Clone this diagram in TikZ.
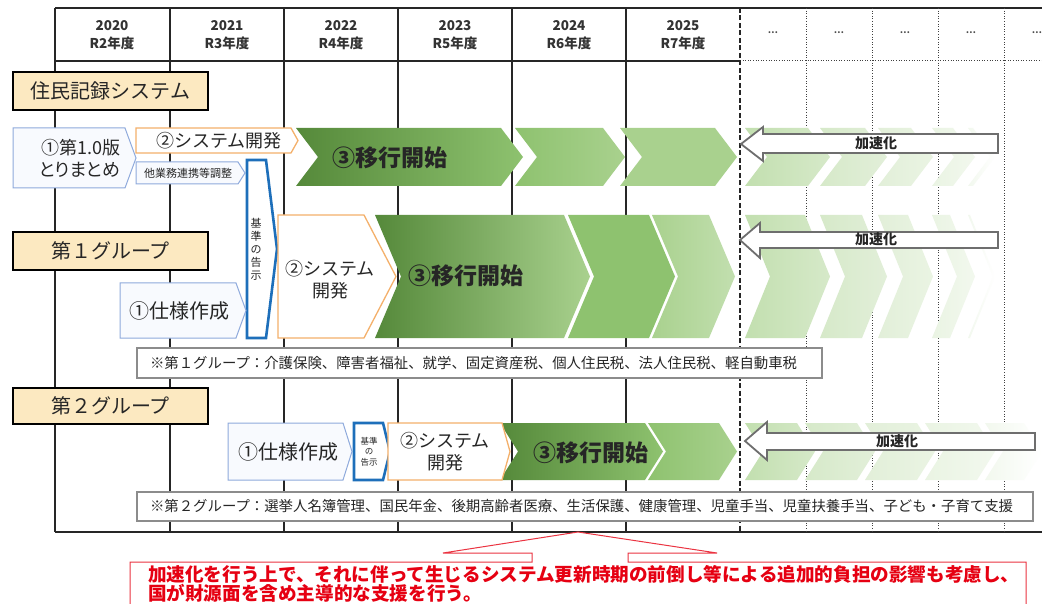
\documentclass[tikz,border=0pt]{standalone}
\usepackage{fontspec}
\setmainfont{Noto Sans CJK JP}
\definecolor{txt}{HTML}{262626}
\definecolor{beige}{HTML}{FCE9C1}
\definecolor{lblue}{HTML}{8FAADC}
\definecolor{lbluefill}{HTML}{F8FAFE}
\definecolor{orng}{HTML}{F4B06B}
\definecolor{kblue}{HTML}{1E6FBA}
\definecolor{ngray}{HTML}{8C8C8C}
\definecolor{agray}{HTML}{6E6E6E}
\definecolor{cred}{HTML}{E60012}
\definecolor{gA}{HTML}{55893A}
\definecolor{gB}{HTML}{8EC26F}
\definecolor{gC}{HTML}{A9D18E}
\definecolor{gD}{HTML}{C2DFAF}
\definecolor{gE}{HTML}{D6E9C9}
\definecolor{gF}{HTML}{E2EFD9}
\definecolor{gG}{HTML}{EAF4E3}
\definecolor{gH}{HTML}{F2F8EE}
\newcommand\chev[7]{\shade[left color=#6,right color=#7] (#1,#3) -- ({#2-#5},#3) -- (#2,{(#3+#4)/2}) -- ({#2-#5},#4) -- (#1,#4) -- ({#1+#5},{(#3+#4)/2}) -- cycle;}
\newcommand\pent[6]{\draw[#6] (#1,#3) -- ({#2-#5},#3) -- (#2,{(#3+#4)/2}) -- ({#2-#5},#4) -- (#1,#4) -- cycle;}
\newcommand\accel[8]{\draw[accelarrow] (#1,#2) -- (#3,#4) -- (#3,#6) -- (#7,#6) -- (#7,#8) -- (#3,#8) -- (#3,#5) -- cycle;}
\tikzset{
  gridline/.style={line width=1.8pt, black!85},
  dashline/.style={line width=2.2pt, black!85, dash pattern=on 5pt off 2.5pt},
  dotline/.style={line width=1pt, black!75, dash pattern=on 1pt off 1.6pt},
  labelbox/.style={draw=black, line width=1.2pt, fill=beige},
  bluechev/.style={draw=lblue, line width=1pt, fill=lbluefill},
  orangechev/.style={draw=orng, line width=1.3pt, fill=white},
  stdbox/.style={draw=kblue, line width=2.6pt, fill=white, line join=miter},
  notebox/.style={draw=ngray, line width=1.3pt, fill=white},
  accelarrow/.style={draw=agray, line width=1.8pt, fill=white, line join=miter},
  every node/.style={inner sep=0pt, outer sep=0pt, text=txt},
  hdr/.style={font=\fontsize{13.5}{18}\selectfont\bfseries, text=black!80, align=center},
  lbl/.style={font=\fontsize{20}{24}\selectfont},
  big/.style={font=\fontsize{23}{26}\selectfont\bfseries},
  mid/.style={font=\fontsize{18}{22}\selectfont},
  note/.style={font=\fontsize{14.4}{17}\selectfont, anchor=west},
  acc/.style={font=\fontsize{14}{16}\selectfont\bfseries},
}
\begin{document}
\begin{tikzpicture}[x=1pt,y=-1pt]
\useasboundingbox (0,0) rectangle (1042,604);
\fill[white] (0,0) rectangle (1042,604);
% grid
\draw[gridline] (55,8) -- (1042,8);
\draw[gridline] (55,61) -- (740,61);
\draw[dotline] (740,61) -- (1042,61);
\draw[gridline] (55,532) -- (1042,532);
\foreach \x in {55,170,284,398,512,626} \draw[gridline] (\x,8) -- (\x,532);
\draw[dashline] (740,8) -- (740,532);
\foreach \x in {806,872,938,1004} \draw[dotline] (\x,8) -- (\x,532);
% header
\node[hdr] (h20) at (112,35) {2020\\R2年度};
\node[hdr] (h21) at (227,35) {2021\\R3年度};
\node[hdr] (h22) at (341,35) {2022\\R4年度};
\node[hdr] (h23) at (455,35) {2023\\R5年度};
\node[hdr] (h24) at (569,35) {2024\\R6年度};
\node[hdr] (h25) at (683,35) {2025\\R7年度};
\foreach \x/\n in {773/a,839/b,905/c,971/d,1037/e} \node[font=\fontsize{9}{10}\selectfont\bfseries, text=black!70] (dots\n) at (\x,33) {…};

% ---------- Row 1 ----------
\draw[labelbox] (13,72) rectangle (208,110);
\node[lbl] (jumin) at (110.5,91) {住民記録システム};
\chev{745}{830}{128}{186}{22}{gD}{gE}
\chev{820}{887}{128}{186}{22}{gE}{gF}
\chev{878}{933}{128}{186}{22}{gF}{gG}
\chev{932}{975}{128}{186}{22}{gG}{gH}
\chev{968}{995}{128}{186}{22}{gH}{white}
\chev{296}{523}{128}{186}{22}{gA}{gB}
\chev{515}{625}{128}{186}{22}{gB}{gC}
\chev{620}{737}{128}{186}{22}{gC}{gC}
\pent{13}{136}{128}{188}{11}{bluechev}
\node[mid, align=right, anchor=east] (v10) at (120,158) {①第1.0版\\{\addfontfeature{RawFeature=+palt}とりまとめ}};
\pent{136}{298}{128}{153}{7}{orangechev}
\node[mid] (dev1) at (219,140.5) {②システム開発};
\pent{136}{245}{162}{184}{7}{bluechev}
\node[font=\fontsize{11}{12}\selectfont] (coord1) at (188,173) {他業務連携等調整};
\node[big] (mig1) at (390,158) {③移行開始};
\accel{741}{144}{763}{127}{161}{134}{998}{153}
\node[acc] (acc1) at (876,143.5) {加速化};

% ---------- Row 2 ----------
\draw[labelbox] (13,232) rectangle (208,270);
\node[lbl] (g1) at (110.5,251) {第１グループ};
\pent{247}{277}{160}{338}{11}{stdbox}
\node[font=\fontsize{11}{13}\selectfont, align=center] (std1) at (256,249) {基\\準\\の\\告\\示};
\chev{745}{830}{215}{338}{25}{gD}{gE}
\chev{820}{887}{215}{338}{25}{gE}{gF}
\chev{878}{933}{215}{338}{25}{gF}{gG}
\chev{932}{975}{215}{338}{25}{gG}{gH}
\chev{968}{995}{215}{338}{25}{gH}{white}
\chev{375}{590}{215}{338}{26}{gA}{gC}
\chev{568}{675}{215}{338}{26}{gB}{gB}
\chev{652}{735}{215}{338}{26}{gC}{gD}
\pent{120}{246}{283}{338}{10}{bluechev}
\node[lbl] (spec1) at (179,311) {①仕様作成};
\pent{278}{396}{215}{338}{32}{orangechev}
\node[mid, align=center] (dev2) at (330,280) {②システム\\開発};
\node[big] (mig2) at (466,276) {③移行開始};
\accel{740}{240}{760}{223}{258}{232}{998}{248}
\node[acc] (acc2) at (876,239.5) {加速化};
\draw[notebox] (137,348) rectangle (822,378);
\node[note] (note1) at (150,363) {※第１グループ：介護保険、障害者福祉、就学、固定資産税、個人住民税、法人住民税、軽自動車税};

% ---------- Row 3 ----------
\draw[labelbox] (13,388) rectangle (208,424);
\node[lbl] (g2) at (110.5,406) {第２グループ};
\chev{745}{815}{423}{480}{18}{gD}{gE}
\chev{805}{875}{423}{480}{18}{gE}{gF}
\chev{865}{935}{423}{480}{18}{gF}{gG}
\chev{925}{995}{423}{480}{18}{gG}{gH}
\chev{985}{1042}{423}{480}{18}{gH}{white}
\chev{500}{663}{423}{480}{18}{gA}{gB}
\chev{648}{737}{423}{480}{18}{gB}{gC}
\pent{228}{352}{423}{480}{9}{bluechev}
\node[lbl] (spec2) at (288,452) {①仕様作成};
\pent{354}{390}{423}{480}{7}{stdbox}
\node[font=\fontsize{8.5}{10.5}\selectfont, align=center] (std2) at (369,451.5) {基準\\の\\告示};
\pent{388}{510}{423}{480}{8}{orangechev}
\node[mid, align=center] (dev3) at (445,452) {②システム\\開発};
\node[big] (mig3) at (591,453) {③移行開始};
\accel{745}{441}{767}{422}{460}{433}{1035}{450}
\node[acc] (acc3) at (897,441) {加速化};
\draw[notebox] (137,492) rectangle (1033,521);
\node[note] (note2) at (150,506.5) {※第２グループ：選挙人名簿管理、国民年金、後期高齢者医療、生活保護、健康管理、児童手当、児童扶養手当、子ども・子育て支援};

% ---------- callout ----------
\coordinate (tip) at (578,532);
\draw[cred!80, line width=1pt, fill=white] (130,640) -- (130,562) -- (532,562) -- (532,553) -- (443,553) -- (tip) -- (717,553) -- (628,553) -- (628,562) -- (1026,562) -- (1026,640);
\node[font=\fontsize{18.6}{19.6}\selectfont\bfseries, text=cred, align=left, anchor=north west] (msg) at (148,565) {加速化を行う上で、それに伴って生じるシステム更新時期の前倒し等による追加的負担の影響も考慮し、\\国が財源面を含め主導的な支援を行う。};
\end{tikzpicture}
\end{document}
